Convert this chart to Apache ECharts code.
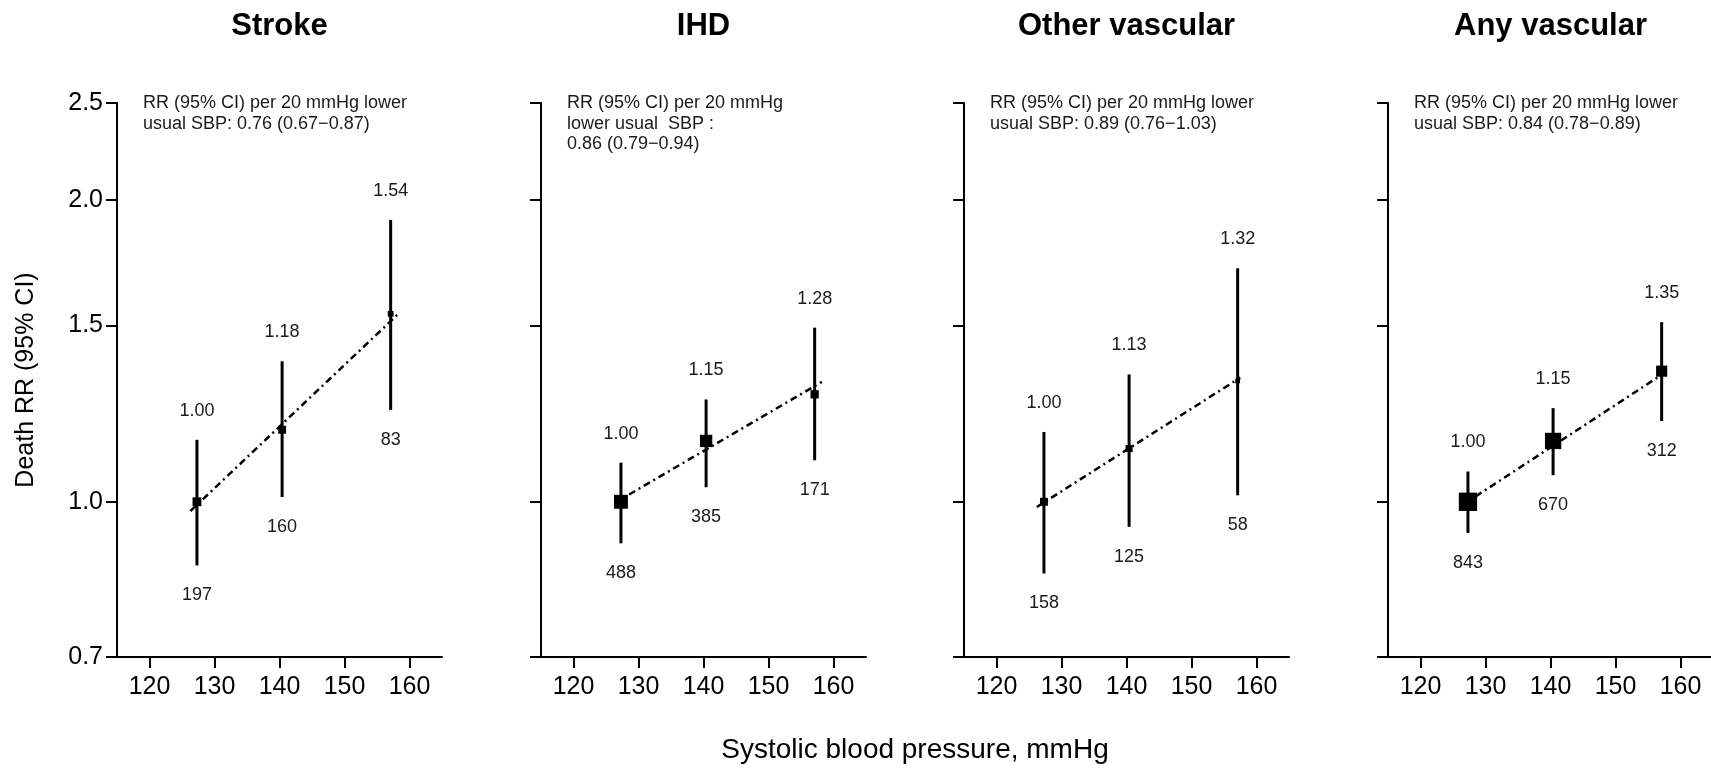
<!DOCTYPE html>
<html>
<head>
<meta charset="utf-8">
<title>Death RR by systolic blood pressure</title>
<script src="https://cdn.jsdelivr.net/npm/echarts@6.0.0/dist/echarts.min.js"></script>
<style>
  html, body { margin: 0; padding: 0; background: #fff; }
  #chart { width: 1711px; height: 770px; }
</style>
</head>
<body>
<div id="chart"></div>
<script>
// panels
var panelTitles = ['Stroke', 'IHD', 'Other vascular', 'Any vascular'];
var panelNotes = [
  'RR (95% CI) per 20 mmHg lower\nusual SBP: 0.76 (0.67\u22120.87)',
  'RR (95% CI) per 20 mmHg\nlower usual  SBP :\n0.86 (0.79\u22120.94)',
  'RR (95% CI) per 20 mmHg lower\nusual SBP: 0.89 (0.76\u22121.03)',
  'RR (95% CI) per 20 mmHg lower\nusual SBP: 0.84 (0.78\u22120.89)'
];

// axes
var xTicks = [120, 130, 140, 150, 160];
var yTicks = [0.7, 1.0, 1.5, 2.0, 2.5];

// mean SBP of each group (x position of the points)
var sbp = [127.3, 140.4, 157.1];

// Stroke
var strokeRR = [1.00, 1.18, 1.54];
var strokeLow = [0.864, 1.011, 1.235];
var strokeHigh = [1.153, 1.381, 1.911];
var strokeDeaths = [197, 160, 83];
var strokeTrend = [[126.3, 0.979], [158.1, 1.536]];

// IHD
var ihdRR = [1.00, 1.15, 1.28];
var ihdLow = [0.909, 1.034, 1.100];
var ihdHigh = [1.094, 1.265, 1.492];
var ihdDeaths = [488, 385, 171];
var ihdTrend = [[126.3, 0.997], [158.2, 1.317]];

// Other vascular
var otherRR = [1.00, 1.13, 1.32];
var otherLow = [0.848, 0.944, 1.015];
var otherHigh = [1.174, 1.340, 1.710];
var otherDeaths = [158, 125, 58];
var otherTrend = [[126.2, 0.988], [157.5, 1.330]];

// Any vascular
var anyRR = [1.00, 1.15, 1.35];
var anyLow = [0.931, 1.063, 1.204];
var anyHigh = [1.072, 1.240, 1.511];
var anyDeaths = [843, 670, 312];
var anyTrend = [[126.3, 0.991], [158.1, 1.352]];

var panels = [
  { rr: strokeRR, low: strokeLow, high: strokeHigh, deaths: strokeDeaths, trend: strokeTrend },
  { rr: ihdRR, low: ihdLow, high: ihdHigh, deaths: ihdDeaths, trend: ihdTrend },
  { rr: otherRR, low: otherLow, high: otherHigh, deaths: otherDeaths, trend: otherTrend },
  { rr: anyRR, low: anyLow, high: anyHigh, deaths: anyDeaths, trend: anyTrend }
];

var FONT = '"Liberation Sans", Arial, Helvetica, sans-serif';
var gridLeft = [117, 541, 964, 1388];
var gridTop = 103, gridWidth = 325, gridHeight = 554;

var myChart = echarts.init(document.getElementById('chart'), null, { renderer: 'canvas' });

// error bar + the two numbers above / below it
function renderCI(params, api) {
  var x = api.value(0);
  var top = api.coord([x, api.value(3)]);
  var bot = api.coord([x, api.value(2)]);
  var txt = { fontSize: 18, fontFamily: FONT, fill: '#1a1a1a', align: 'center', verticalAlign: 'middle' };
  return {
    type: 'group',
    children: [
      {
        type: 'line',
        shape: { x1: top[0], y1: top[1], x2: bot[0], y2: bot[1] },
        style: { stroke: '#000', lineWidth: 3 }
      },
      {
        type: 'text', x: top[0], y: top[1] - 29,
        style: Object.assign({ text: api.value(1).toFixed(2) }, txt)
      },
      {
        type: 'text', x: bot[0], y: bot[1] + 30,
        style: Object.assign({ text: String(api.value(4)) }, txt)
      }
    ]
  };
}

var grids = [], xAxes = [], yAxes = [], series = [], graphics = [];

panels.forEach(function (p, i) {
  grids.push({
    left: gridLeft[i], top: gridTop, width: gridWidth, height: gridHeight,
    containLabel: false, outerBoundsMode: 'none'
  });

  xAxes.push({
    type: 'value', gridIndex: i, min: 115, max: 165,
    axisLine: { show: true, onZero: false, lineStyle: { color: '#000', width: 2 } },
    axisTick: { show: true, length: 11, customValues: xTicks, lineStyle: { color: '#000', width: 2 } },
    axisLabel: { customValues: xTicks, fontSize: 25, color: '#000', margin: 18, fontFamily: FONT },
    splitLine: { show: false }
  });

  yAxes.push({
    type: 'log', gridIndex: i, min: 0.7, max: 2.5, logBase: 10,
    axisLine: { show: true, onZero: false, lineStyle: { color: '#000', width: 2 } },
    axisTick: { show: true, length: 11, customValues: yTicks, lineStyle: { color: '#000', width: 2 } },
    axisLabel: {
      show: i === 0, customValues: yTicks, fontSize: 25, color: '#000', margin: 14, fontFamily: FONT,
      formatter: function (v) { return Number(v).toFixed(1); }
    },
    splitLine: { show: false },
    name: i === 0 ? 'Death RR (95% CI)' : '',
    nameLocation: 'middle', nameGap: 78,
    nameTextStyle: { fontSize: 25, color: '#000', fontFamily: FONT }
  });

  // fitted trend, dash-dot
  series.push({
    type: 'line', xAxisIndex: i, yAxisIndex: i,
    data: p.trend, symbol: 'none', silent: true, z: 2,
    lineStyle: { color: '#000', width: 2.5, type: [7, 4, 2, 4] }
  });

  var ciData = sbp.map(function (x, j) {
    return [x, p.rr[j], p.low[j], p.high[j], p.deaths[j]];
  });
  series.push({
    type: 'custom', xAxisIndex: i, yAxisIndex: i, z: 3, silent: true,
    renderItem: renderCI,
    encode: { x: 0, y: [1, 2, 3] },
    data: ciData
  });

  // squares, area proportional to number of deaths
  series.push({
    type: 'scatter', xAxisIndex: i, yAxisIndex: i, z: 4, silent: true,
    symbol: 'rect',
    symbolSize: function (val) { return 0.63 * Math.sqrt(val[2]); },
    itemStyle: { color: '#000', opacity: 1 },
    data: sbp.map(function (x, j) { return [x, p.rr[j], p.deaths[j]]; })
  });

  graphics.push({
    type: 'text', x: gridLeft[i] + gridWidth / 2, y: 26,
    style: {
      text: panelTitles[i], fontSize: 31, fontWeight: 'bold', fontFamily: FONT,
      fill: '#000', align: 'center', verticalAlign: 'middle'
    }
  });
  graphics.push({
    type: 'text', x: gridLeft[i] + 26, y: 93,
    style: {
      text: panelNotes[i], fontSize: 18, lineHeight: 20.5, fontFamily: FONT,
      fill: '#1a1a1a', align: 'left', verticalAlign: 'top'
    }
  });
});

graphics.push({
  type: 'text', x: 915, y: 750,
  style: {
    text: 'Systolic blood pressure, mmHg', fontSize: 28, fontFamily: FONT,
    fill: '#000', align: 'center', verticalAlign: 'middle'
  }
});

var option = {
  animation: false,
  backgroundColor: '#fff',
  textStyle: { fontFamily: FONT },
  grid: grids,
  xAxis: xAxes,
  yAxis: yAxes,
  series: series,
  graphic: graphics
};

myChart.setOption(option);
</script>
</body>
</html>
